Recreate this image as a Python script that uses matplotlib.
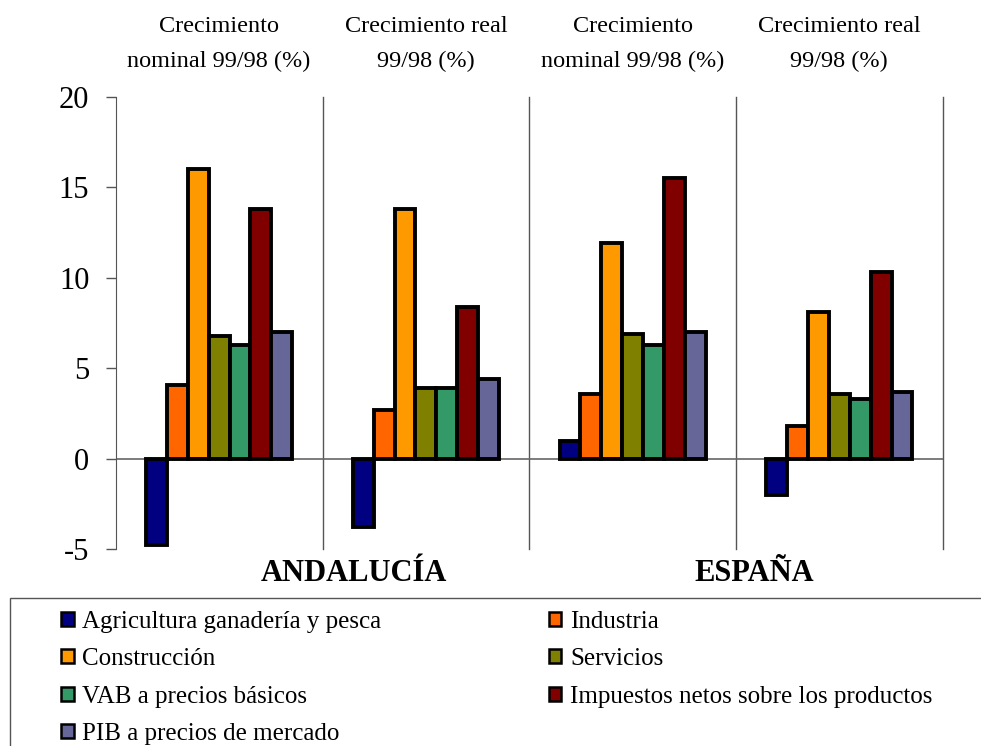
import numpy as np
import matplotlib
matplotlib.use("Agg")
import matplotlib.pyplot as plt
from matplotlib.patches import Rectangle, Patch

plt.rcParams['font.family'] = ['Liberation Serif', 'DejaVu Serif']
plt.rcParams['axes.unicode_minus'] = False

# Grupos (columnas) y sectores
grupos = ["Crecimiento\nnominal 99/98 (%)", "Crecimiento real\n99/98 (%)",
          "Crecimiento\nnominal 99/98 (%)", "Crecimiento real\n99/98 (%)"]
sectores = ["Agricultura ganadería y pesca", "Industria", "Construcción",
            "Servicios", "VAB a precios básicos",
            "Impuestos netos sobre los productos", "PIB a precios de mercado"]
colores = ["#000080", "#FF6600", "#FF9900", "#808000", "#339966", "#800000", "#666699"]

# Valores por sector: [And. nominal, And. real, Esp. nominal, Esp. real]
agricultura = [-4.8, -3.8, 1.0, -2.0]
industria = [4.1, 2.7, 3.6, 1.8]
construccion = [16.0, 13.8, 11.9, 8.1]
servicios = [6.8, 3.9, 6.9, 3.6]
vab = [6.3, 3.9, 6.3, 3.3]
impuestos = [13.8, 8.4, 15.5, 10.3]
pib = [7.0, 4.4, 7.0, 3.7]
series = [agricultura, industria, construccion, servicios, vab, impuestos, pib]

regiones = ["ANDALUCÍA", "ESPAÑA"]

fig = plt.figure(figsize=(9.81, 7.46), dpi=100)
ax = fig.add_axes([0.118, 0.264, 0.843, 0.606])

x = np.arange(len(grupos)) + 0.5
ancho = 0.101
for k, (vals, col) in enumerate(zip(series, colores)):
    ax.bar(x + (k - 3) * ancho, vals, ancho, color=col, edgecolor='black',
           linewidth=2.8, zorder=3)

ax.set_xlim(0, 4)
ax.set_ylim(-5, 20)
ax.set_yticks([-5, 0, 5, 10, 15, 20])
ax.tick_params(axis='y', direction='out', length=7, width=1, color='#555555',
               labelsize=22, pad=12)

# separadores verticales y linea del cero
for b in [1, 2, 3, 4]:
    ax.axvline(b, color='#555555', lw=1, zorder=1, clip_on=False)
ax.axhline(0, color='#666666', lw=1.2, zorder=2)

ax.spines['top'].set_visible(False)
ax.spines['right'].set_visible(False)
ax.spines['bottom'].set_visible(False)
ax.spines['left'].set_color('#555555')
ax.set_xticks([])

# titulos de columna
for xi, g in zip(x, grupos):
    ax.text(xi, 1.118, g, transform=ax.get_xaxis_transform(), ha='center',
            va='center', fontsize=17.5, linespacing=1.85)

# regiones
ax.text(1.15, -0.022, regiones[0], transform=ax.get_xaxis_transform(),
        ha='center', va='top', fontsize=22, fontweight='bold')
ax.text(3.09, -0.022, regiones[1], transform=ax.get_xaxis_transform(),
        ha='center', va='top', fontsize=22, fontweight='bold')

# leyenda en dos columnas, ordenada por filas
orden = [0, 2, 4, 6, 1, 3, 5]
handles = [Patch(facecolor=colores[i], edgecolor='black', linewidth=1.8) for i in orden]
labels = [sectores[i] for i in orden]
fig.legend(handles, labels, loc='upper left', bbox_to_anchor=(0.052, 0.195),
           ncol=2, frameon=False, fontsize=18, handlelength=0.5,
           handleheight=0.5, handletextpad=0.35, labelspacing=0.62,
           columnspacing=6.7, borderaxespad=0)
fig.patches.append(Rectangle((0.0102, -0.1), 1.2, 0.298, transform=fig.transFigure,
                             fill=False, edgecolor='#555555', lw=1))

fig.savefig("out.png", dpi=100)
